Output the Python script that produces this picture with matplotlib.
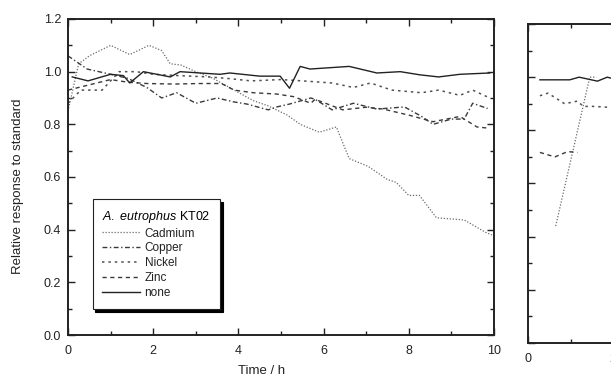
import numpy as np
import matplotlib
matplotlib.use("Agg")
import matplotlib.pyplot as plt
from matplotlib.ticker import MultipleLocator

plt.rcParams['font.family'] = ['Liberation Sans', 'DejaVu Sans']
plt.rcParams['mathtext.fontset'] = 'custom'
plt.rcParams['mathtext.it'] = 'Liberation Sans:italic'
plt.rcParams['mathtext.rm'] = 'Liberation Sans'

# ---- panel (a): A. eutrophus KT02 ----
t_cd = [0.0, 0.25, 0.5, 1.0, 1.45, 1.9, 2.2, 2.4, 2.65, 3.0, 3.4, 3.9, 4.35, 4.7,
        5.15, 5.45, 5.9, 6.3, 6.6, 7.05, 7.5, 7.7, 8.0, 8.25, 8.65, 9.3, 9.8, 9.95]
v_cd = [0.85, 1.03, 1.06, 1.10, 1.065, 1.10, 1.08, 1.03, 1.025, 1.0, 0.975, 0.93, 0.89, 0.87,
        0.835, 0.80, 0.77, 0.79, 0.67, 0.64, 0.59, 0.58, 0.53, 0.53, 0.445, 0.437, 0.39, 0.38]

t_cu = [0.0, 0.45, 1.0, 1.4, 1.85, 2.2, 2.55, 3.0, 3.5, 3.9, 4.2, 4.7, 4.9, 5.2,
        5.7, 5.8, 6.2, 6.7, 7.25, 7.9, 8.3, 8.57, 9.0, 9.3, 9.5, 9.85]
v_cu = [1.06, 1.01, 0.99, 0.975, 0.94, 0.90, 0.92, 0.88, 0.90, 0.885, 0.877, 0.855, 0.866, 0.877,
        0.90, 0.895, 0.855, 0.88, 0.858, 0.866, 0.83, 0.80, 0.82, 0.82, 0.88, 0.86]

t_ni = [0.0, 0.3, 0.8, 1.2, 1.6, 2.0, 2.6, 3.3, 3.7, 4.3, 5.0, 5.5, 6.2, 6.7,
        7.1, 7.6, 8.3, 8.7, 9.2, 9.5, 9.9]
v_ni = [0.88, 0.93, 0.93, 1.0, 1.0, 0.99, 0.985, 0.98, 0.975, 0.965, 0.97, 0.965, 0.957, 0.94,
        0.957, 0.93, 0.92, 0.93, 0.91, 0.93, 0.90]

t_zn = [0.0, 0.5, 1.0, 1.4, 1.85, 2.5, 3.1, 3.6, 3.9, 4.35, 4.9, 5.3, 5.7, 5.8,
        6.45, 7.0, 7.4, 8.0, 8.57, 9.2, 9.6, 9.9]
v_zn = [0.93, 0.95, 0.97, 0.96, 0.955, 0.953, 0.955, 0.955, 0.93, 0.92, 0.915, 0.905, 0.88, 0.895,
        0.855, 0.865, 0.858, 0.835, 0.81, 0.83, 0.79, 0.785]

t_no = [0.1, 0.47, 1.0, 1.3, 1.45, 1.77, 2.4, 2.63, 3.57, 3.8, 4.5, 4.98, 5.2, 5.45,
        5.68, 6.6, 7.25, 7.8, 8.26, 8.7, 9.2, 9.9]
v_no = [0.98, 0.965, 0.99, 0.985, 0.957, 1.0, 0.98, 1.0, 0.99, 0.995, 0.983, 0.983, 0.937, 1.02,
        1.01, 1.02, 0.995, 1.0, 0.988, 0.98, 0.99, 0.995]

# ---- panel (b), only the left edge is visible ----
t2_cd = [0.65, 1.45, 1.6]
v2_cd = [0.44, 1.0, 1.0]
t2_ni = [0.28, 0.47, 0.86, 1.16, 1.3, 1.55, 1.86, 2.1]
v2_ni = [0.93, 0.94, 0.90, 0.91, 0.89, 0.89, 0.887, 0.89]
t2_zn = [0.28, 0.63, 0.93, 1.16]
v2_zn = [0.717, 0.70, 0.72, 0.717]
t2_no = [0.28, 0.98, 1.2, 1.63, 1.86, 2.1]
v2_no = [0.99, 0.99, 1.0, 0.985, 1.0, 0.99]

labels = ['Cadmium', 'Copper', 'Nickel', 'Zinc', 'none']
styles = [(0, (1, 1.4)), (0, (3.5, 1.8, 1, 1.8)), (0, (1.6, 2.6)), (0, (3, 2.6)), '-']
colors = ['#6a6a6a', '#3a3a3a', '#505050', '#3a3a3a', '#222222']
widths = [0.9, 1.0, 1.1, 1.0, 1.0]

W, H = 611, 383
fig = plt.figure(figsize=(W / 100, H / 100), dpi=100)
ax = fig.add_axes([68 / W, 48 / H, 426 / W, 316 / H])
ax2 = fig.add_axes([528 / W, 40 / H, 426 / W, 319 / H])

series = [(t_cd, v_cd), (t_cu, v_cu), (t_ni, v_ni), (t_zn, v_zn), (t_no, v_no)]
for (t, v), lab, ls, c, lw in zip(series, labels, styles, colors, widths):
    ax.plot(t, v, linestyle=ls, color=c, lw=lw, label=lab)

series2 = [(t2_cd, v2_cd, 0), (t2_ni, v2_ni, 2), (t2_zn, v2_zn, 3), (t2_no, v2_no, 4)]
for t, v, k in series2:
    ax2.plot(t, v, linestyle=styles[k], color=colors[k], lw=widths[k])

for a in (ax, ax2):
    a.set_xlim(0, 10)
    a.set_ylim(0, 1.2)
    a.xaxis.set_major_locator(MultipleLocator(2))
    a.xaxis.set_minor_locator(MultipleLocator(1))
    a.yaxis.set_major_locator(MultipleLocator(0.2))
    a.yaxis.set_minor_locator(MultipleLocator(0.1))
    a.tick_params(which='both', direction='in', top=True, right=True,
                  width=1.0, color='#222222', labelsize=9, labelcolor='#222222')
    a.tick_params(which='major', length=5)
    a.tick_params(which='minor', length=3)
    for s in a.spines.values():
        s.set_linewidth(1.4)
        s.set_color('#222222')

ax.yaxis.set_major_formatter(matplotlib.ticker.FormatStrFormatter('%.1f'))
ax.tick_params(axis='x', pad=7)
ax.tick_params(axis='y', pad=5)
ax2.tick_params(axis='x', pad=7)
ax2.tick_params(axis='y', labelleft=False)
# only the first two ticks of the cut-off panel are labelled in the scan
ax2.set_xticks([0, 2, 4, 6, 8, 10], ['0', '2', '', '', '', ''])

fig.text(18 / W, 1 - 186 / H, 'Relative response to standard', rotation=90,
         ha='center', va='center', fontsize=9.5, color='#222222')
fig.text(262 / W, 1 - 371 / H, 'Time / h', ha='center', va='center',
         fontsize=9.5, color='#222222')

leg = ax.legend(loc='upper left', bbox_to_anchor=(0.058, 0.43), borderaxespad=0,
                title=r'$\it{A.\ eutrophus}$ KT02', alignment='left',
                fontsize=8.5, title_fontsize=9, handlelength=3.2, handletextpad=0.4,
                labelspacing=0.25, borderpad=0.8, fancybox=False,
                shadow={'color': 'black', 'alpha': 1.0})
leg.get_frame().set_edgecolor('#222222')
leg.get_frame().set_linewidth(0.8)
for txt in leg.get_texts():
    txt.set_color('#222222')

fig.savefig('out.png', dpi=100)
